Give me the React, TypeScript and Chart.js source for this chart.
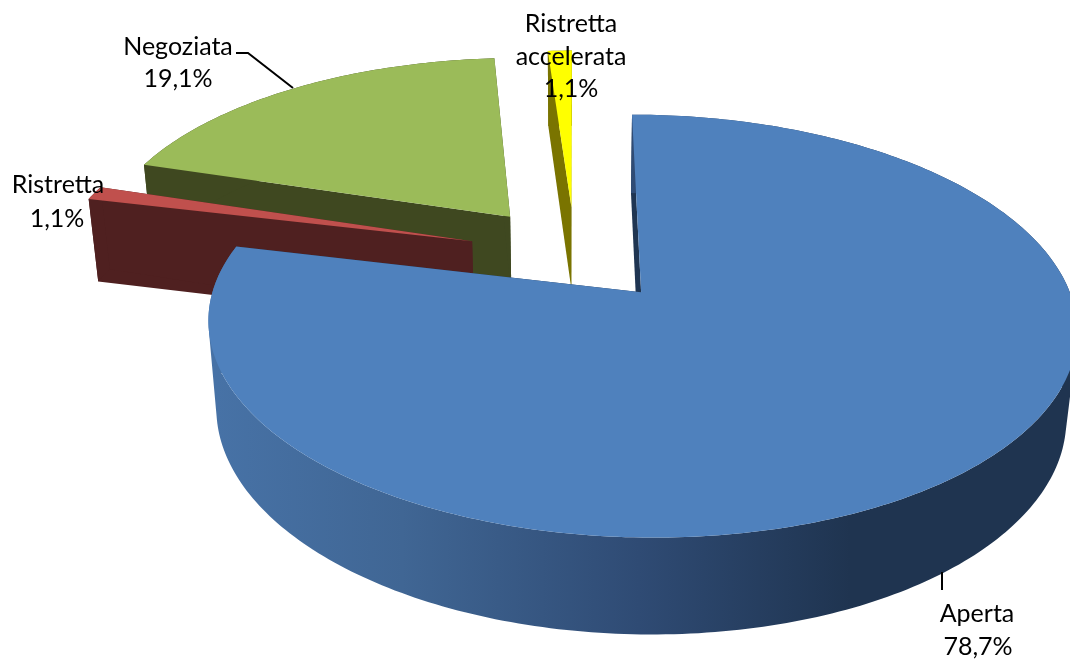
import React, { useEffect, useRef } from "react";
import { Chart, registerables } from "chart.js";

Chart.register(...registerables);

const categories = ["Aperta", "Ristretta", "Negoziata", "Ristretta accelerata"];
const shares = [78.7, 1.1, 19.1, 1.1];
const topColors = ["#4F81BD", "#C0504D", "#9BBB59", "#FFFF00"];
const sideColors = ["#1F3552", "#4F2020", "#3F4820", "#7A7400"];
const drawOrder = [3, 2, 1, 0];

// Label layout, one entry per category: centre x and baseline y of every line
const labelLines = [
  [["Aperta"], 977, 622],
  [["Ristretta"], 58, 193],
  [["Negoziata"], 178, 55],
  [["Ristretta", "accelerata"], 571, 32],
] as const;
const valueLabelY = [655, 227, 87, 97];
const valueLabelX = [978, 57, 178, 571];
const leaderLines = [
  [[942, 572], [942, 590]],
  [[236, 53], [248, 53], [293, 88]],
];

// Perspective camera of the tilted pie
const cam = { x0: 575, y0: 254, kx: 416, ky: 194, p: 0.155, q: 0.021, h: 87, explodeX: 0.259, explodeY: 0.252 };
const explodeScaleX = [0.96, 1, 1, 1];
const explodeScaleY = [0.97, 1, 1, 1];

type Pt = [number, number];

const project = (X: number, Y: number, bottom: boolean): Pt => {
  const w = 1 + cam.p * Y + (bottom ? cam.q : 0);
  return [cam.x0 + (cam.kx * X) / w, cam.y0 + (-cam.ky * Y + (bottom ? cam.h : 0)) / w];
};

const addPoly = (ctx: CanvasRenderingContext2D, pts: Pt[]) => {
  pts.forEach((p, i) => (i ? ctx.lineTo(p[0], p[1]) : ctx.moveTo(p[0], p[1])));
  ctx.closePath();
};

const fillPoly = (ctx: CanvasRenderingContext2D, pts: Pt[], fill: string | CanvasGradient) => {
  ctx.beginPath();
  addPoly(ctx, pts);
  ctx.fillStyle = fill;
  ctx.fill();
};

const signedArea = (pts: Pt[]) =>
  pts.reduce((sum, p, i) => {
    const q = pts[(i + 1) % pts.length];
    return sum + p[0] * q[1] - q[0] * p[1];
  }, 0);

const pie3d = {
  id: "pie3d",
  beforeDatasetsDraw(chart: any) {
    const ctx: CanvasRenderingContext2D = chart.ctx;
    const arcs = chart.getDatasetMeta(0).data;
    drawOrder.forEach((i) => {
      const arc = arcs[i];
      const a0 = arc.startAngle + Math.PI / 2;
      const a1 = arc.endAngle + Math.PI / 2;
      const mid = (a0 + a1) / 2;
      const ox = cam.explodeX * explodeScaleX[i] * Math.sin(mid);
      const oy = cam.explodeY * explodeScaleY[i] * Math.cos(mid);
      const n = Math.max(4, Math.ceil((a1 - a0) * 60));
      const rim = (bottom: boolean) => {
        const pts: Pt[] = [];
        for (let s = 0; s <= n; s++) {
          const t = a0 + ((a1 - a0) * s) / n;
          pts.push(project(ox + Math.sin(t), oy + Math.cos(t), bottom));
        }
        return pts;
      };
      const top = rim(false);
      const bot = rim(true);
      const apexT = project(ox, oy, false);
      const apexB = project(ox, oy, true);
      // cut faces
      fillPoly(ctx, [apexT, top[0], bot[0], apexB], sideColors[i]);
      fillPoly(ctx, [apexT, top[n], bot[n], apexB], sideColors[i]);
      // outer wall: one path of equally wound quads, so the silhouette follows the tangent edges
      let wall: string | CanvasGradient = sideColors[i];
      if (i === 0) {
        const g = ctx.createLinearGradient(216, 0, 1062, 0);
        g.addColorStop(0, "#4772A6");
        g.addColorStop(0.22, "#406694");
        g.addColorStop(0.5, "#2F4B74");
        g.addColorStop(0.75, "#1F3450");
        g.addColorStop(1, "#1F3450");
        wall = g;
      }
      ctx.beginPath();
      for (let s = 0; s < n; s++) {
        const quad: Pt[] = [top[s], top[s + 1], bot[s + 1], bot[s]];
        addPoly(ctx, signedArea(quad) < 0 ? quad.reverse() : quad);
      }
      ctx.fillStyle = wall;
      ctx.fill("nonzero");
      // top face
      fillPoly(ctx, [apexT, ...top], topColors[i]);
    });
    return false;
  },
  afterDraw(chart: any) {
    const ctx: CanvasRenderingContext2D = chart.ctx;
    ctx.save();
    ctx.strokeStyle = "#000000";
    ctx.lineWidth = 2;
    leaderLines.forEach((l) => {
      ctx.beginPath();
      l.forEach((p, i) => (i ? ctx.lineTo(p[0], p[1]) : ctx.moveTo(p[0], p[1])));
      ctx.stroke();
    });
    ctx.fillStyle = "#000000";
    ctx.font = '25px Lato, "Open Sans", sans-serif';
    ctx.textAlign = "center";
    ctx.textBaseline = "alphabetic";
    labelLines.forEach(([lines, x, y], i) => {
      lines.forEach((t, j) => ctx.fillText(t, x, y + j * 33));
      ctx.fillText(shares[i].toFixed(1).replace(".", ",") + "%", valueLabelX[i], valueLabelY[i]);
    });
    ctx.restore();
  },
};

export default function App() {
  const ref = useRef<HTMLCanvasElement>(null);
  useEffect(() => {
    document.body.style.margin = "0";
    const chart = new Chart(ref.current!, {
      type: "pie",
      data: {
        labels: categories,
        datasets: [{ data: shares, backgroundColor: topColors, borderWidth: 0 }],
      },
      options: {
        animation: false,
        responsive: false,
        plugins: { legend: { display: false }, tooltip: { enabled: false } },
      },
      plugins: [pie3d],
    } as any);
    return () => chart.destroy();
  }, []);
  return <canvas ref={ref} width={1070} height={660} style={{ display: "block" }} />;
}
